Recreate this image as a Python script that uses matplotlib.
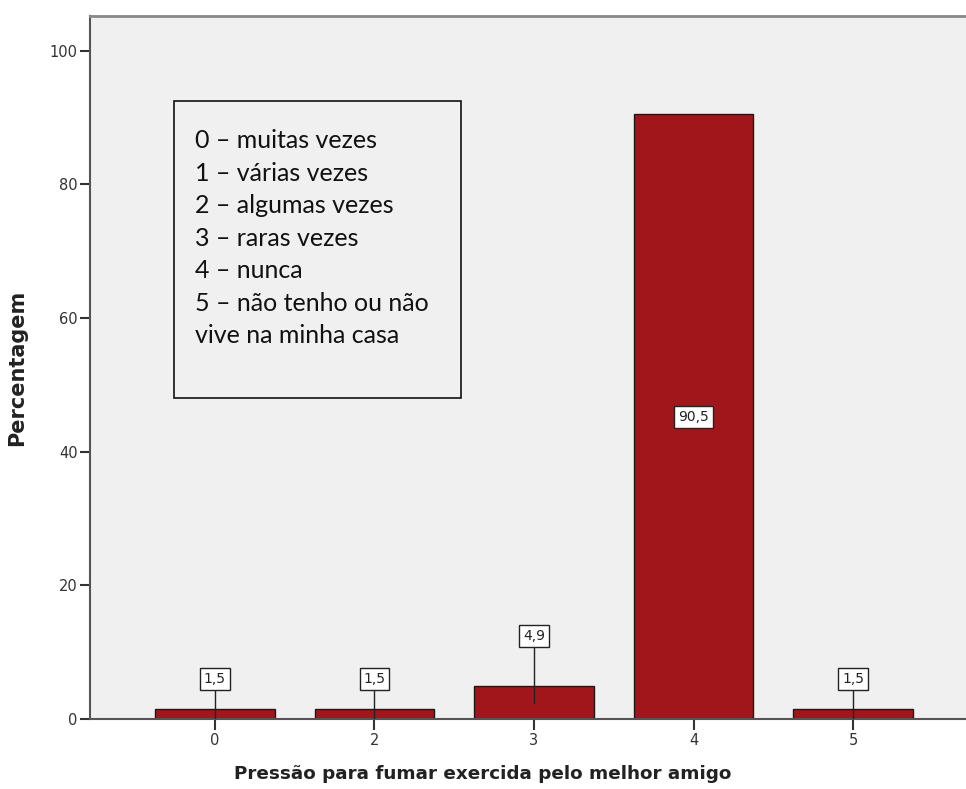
import matplotlib
matplotlib.use("Agg")
import matplotlib.pyplot as plt
from matplotlib.patches import Rectangle
import numpy as np

# dados
categorias = ["0", "2", "3", "4", "5"]
percentagens = [1.5, 1.5, 4.9, 90.5, 1.5]
rotulos = ["1,5", "1,5", "4,9", "90,5", "1,5"]
legenda = ["0 \u2013 muitas vezes", "1 \u2013 várias vezes", "2 \u2013 algumas vezes",
           "3 \u2013 raras vezes", "4 \u2013 nunca", "5 \u2013 não tenho ou não",
           "vive na minha casa"]

fig = plt.figure(figsize=(9.66, 7.89), dpi=100)
ax = fig.add_axes([90 / 966, 70 / 789, 888 / 966, 703 / 789])
ax.set_facecolor("#f0f0f0")

x = np.arange(len(categorias))
ax.bar(x, percentagens, width=0.75, color="#a0161a", edgecolor="#1a1a1a", linewidth=1.0, zorder=2)

# rótulos com caixa e linha de ligação
caixa = dict(boxstyle="square,pad=0.28", fc="white", ec="#222222", lw=1)
for xi, v, r in zip(x, percentagens, rotulos):
    if v > 50:
        ax.text(xi, v / 2, r, ha="center", va="center", fontsize=10, color="#222222",
                family="DejaVu Sans", bbox=caixa, zorder=5)
        continue
    ly = v + (4.5 if v < 3 else 7.5)
    ax.plot([xi, xi], [v / 2 if v > 3 else 0, ly], color="#222222", lw=1, zorder=4)
    ax.text(xi, ly, r, ha="center", va="center", fontsize=10, color="#222222",
            family="DejaVu Sans", bbox=caixa, zorder=5)

ax.set_xlim(-0.783, 4.783)
ax.set_ylim(0, 105.2)
ax.set_xticks(x)
ax.set_xticklabels(categorias)
ax.set_yticks([0, 20, 40, 60, 80, 100])
ax.tick_params(axis="both", labelsize=10.5, colors="#333333", width=1.5, length=7, pad=2)
ax.tick_params(axis="x", length=8)

for s in ["left", "bottom"]:
    ax.spines[s].set_color("#555555")
    ax.spines[s].set_linewidth(1.5)
ax.spines["top"].set_color("#888888")
ax.spines["top"].set_linewidth(2)
ax.spines["right"].set_visible(False)

ax.set_xlabel("Pressão para fumar exercida pelo melhor amigo", fontsize=13.2,
              fontweight="bold", color="#222222")
ax.xaxis.set_label_coords(0.4426, -0.065)
ax.set_ylabel("Percentagem", fontsize=15, fontweight="bold", color="#222222")
ax.yaxis.set_label_coords(-0.071, 0.5)

# caixa de legenda
ax.add_patch(Rectangle((0.0946, 0.4566), 0.3234, 0.4224, transform=ax.transAxes,
                       fill=False, ec="#111111", lw=1.2, zorder=6))
ax.text(0.118, 0.839, "\n".join(legenda), transform=ax.transAxes, ha="left", va="top",
        fontsize=18, family="Lato", color="#111111", linespacing=1.50, zorder=6)

fig.savefig("out.png", dpi=100)
